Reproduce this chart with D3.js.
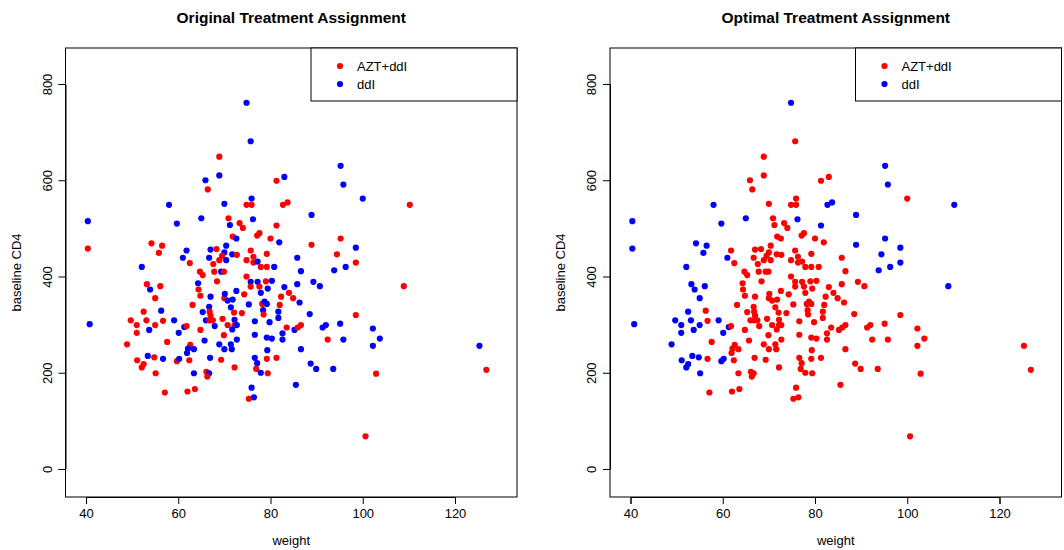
<!DOCTYPE html>
<html>
<head>
<meta charset="utf-8">
<script src="https://cdn.jsdelivr.net/npm/d3@7"></script>
<style>
  body { margin: 0; background: #fff; }
  text { font-family: "Liberation Sans", Arial, sans-serif; fill: #000; }
</style>
</head>
<body>
<script>
// Data (weight in kg, baseline CD4 count)
var weight = [
  40.4, 40.4, 40.8, 58.0, 59.7, 65.0, 54.2, 56.5, 55.8, 61.0,
  52.1, 53.2, 53.9, 56.1, 55.0, 52.5, 49.7, 51.0, 53.1, 51.0,
  53.7, 55.0, 59.1, 61.3, 60.1, 48.9, 51.1, 52.5, 52.1, 53.4,
  54.8, 55.1, 59.7, 60.2, 61.8, 62.5, 61.8, 63.1, 56.3, 56.7,
  57.6, 62.6, 62.1, 61.9, 63.4, 56.7, 62.4, 63.4, 57.1, 62.0,
  63.6, 64.3, 64.4, 64.8, 64.7, 65.3, 64.8, 68.9, 65.9, 66.4,
  68.9, 67.0, 68.3, 66.7, 67.6, 68.9, 67.8, 68.4, 67.0, 66.7,
  65.3, 66.8, 67.0, 66.0, 66.8, 67.5, 67.9, 68.9, 65.7, 66.9,
  66.1, 66.7, 66.3, 74.8, 82.7, 83.7, 76.2, 81.3, 88.9, 88.9,
  95.2, 95.8, 95.2, 94.4, 96.3, 93.8, 98.5, 98.5, 75.7, 81.3,
  83.0, 75.9, 74.8, 75.9, 70.0, 70.9, 71.2, 73.3, 74.0, 71.8,
  72.6, 77.1, 77.6, 80.0, 81.9, 70.4, 70.0, 69.5, 71.7, 72.7,
  70.4, 75.7, 74.8, 76.3, 76.3, 77.2, 79.2, 77.9, 79.2, 80.8,
  85.8, 86.6, 69.3, 69.9, 74.8, 75.7, 75.7, 77.2, 77.6, 79.0,
  80.3, 79.4, 83.0, 85.8, 84.0, 84.9, 86.3, 89.3, 90.7, 72.6,
  74.3, 77.9, 82.3, 70.0, 70.7, 71.8, 71.4, 75.3, 78.2, 78.7,
  79.2, 82.0, 78.4, 78.5, 81.7, 81.7, 72.1, 73.8, 69.6, 72.2,
  72.2, 70.7, 71.7, 72.7, 76.6, 79.8, 83.5, 85.2, 85.9, 86.6,
  88.5, 91.3, 92.0, 69.9, 76.6, 79.2, 80.3, 82.6, 82.6, 92.4,
  95.1, 95.8, 70.0, 71.4, 71.6, 72.7, 76.6, 79.2, 81.3, 86.6,
  77.1, 76.9, 77.9, 79.4, 69.3, 72.2, 88.7, 89.9, 93.6, 85.5,
  75.9, 75.3, 76.4, 79.3, 70.1, 100.0, 110.2, 108.9, 98.5, 102.2,
  103.7, 102.2, 102.9, 125.3, 126.8, 100.6
];
var cd4 = [
  515, 458, 301, 549, 510, 521, 469, 464, 449, 439,
  420, 384, 373, 380, 355, 327, 309, 299, 309, 283,
  289, 299, 309, 295, 283, 259, 226, 218, 211, 235,
  232, 199, 224, 229, 454, 428, 297, 341, 329, 308,
  264, 258, 250, 241, 249, 229, 226, 199, 159, 161,
  166, 386, 373, 360, 410, 403, 289, 649, 600, 581,
  610, 456, 457, 439, 426, 434, 410, 390, 358, 337,
  326, 327, 319, 309, 309, 309, 297, 259, 267, 231,
  202, 199, 192, 761, 549, 554, 519, 506, 528, 466,
  630, 591, 479, 446, 420, 413, 460, 429, 681, 599,
  607, 562, 549, 549, 551, 521, 507, 511, 501, 483,
  479, 485, 490, 479, 471, 464, 450, 443, 446, 445,
  434, 454, 434, 441, 429, 431, 447, 420, 420, 420,
  439, 411, 410, 410, 400, 389, 379, 389, 379, 390,
  391, 375, 378, 384, 366, 355, 346, 389, 380, 370,
  363, 366, 358, 355, 350, 352, 336, 342, 343, 348,
  343, 341, 330, 321, 327, 314, 325, 324, 312, 310,
  299, 299, 290, 299, 307, 305, 294, 289, 294, 299,
  322, 294, 299, 278, 279, 273, 271, 269, 282, 269,
  302, 269, 249, 259, 249, 269, 231, 229, 231, 249,
  220, 208, 200, 199, 227, 211, 219, 208, 208, 175,
  169, 146, 149, 247, 364, 562, 549, 380, 320, 292,
  271, 256, 198, 256, 206, 68
];
// treatment index into treatments: 0 = AZT+ddI, 1 = ddI
var originalArm = [
  1,0,1,1,1,1,0,0,0,1, 1,0,1,0,0,0,0,0,0,0, 1,0,1,1,1,0,0,0,0,1,
  0,0,0,1,1,0,0,0,1,0, 0,0,1,1,1,1,0,1,0,0, 0,1,0,0,0,0,0,0,1,0,
  1,1,0,1,0,0,0,0,1,1, 1,0,0,1,0,0,1,1,1,1, 0,1,0,1,0,0,1,0,1,0,
  1,1,0,0,1,1,1,0,1,0, 1,1,0,0,1,0,1,0,0,0, 1,0,0,0,1,1,1,0,1,0,
  1,0,0,0,0,1,0,0,0,1, 1,1,1,0,0,1,0,1,0,0, 1,1,1,1,0,0,1,1,1,1,
  0,1,0,0,1,1,1,1,0,1, 1,0,1,0,1,1,0,0,0,1, 0,0,1,1,1,1,0,1,0,0,
  1,1,1,0,1,1,1,1,1,0, 1,1,1,1,1,1,1,0,0,1, 1,0,1,0,0,0,1,1,1,1,
  1,0,1,1,1,1,0,0,0,1, 1,1,0,1,0,0
];
var optimalArm = [
  1,1,1,1,1,1,1,1,1,1, 1,1,1,1,1,1,1,1,1,1, 1,1,1,1,1,1,1,1,1,1,
  1,1,1,1,0,0,0,0,0,0, 0,0,0,0,0,0,0,0,0,0, 0,0,0,0,0,0,0,0,0,0,
  0,0,0,0,0,0,0,0,0,0, 0,0,0,0,0,0,0,0,0,0, 0,0,0,1,1,1,1,1,1,1,
  1,1,1,1,1,1,1,1,0,0, 0,0,0,0,0,0,0,0,0,0, 0,0,0,0,0,0,0,0,0,0,
  0,0,0,0,0,0,0,0,0,0, 0,0,0,0,0,0,0,0,0,0, 0,0,0,0,0,0,0,0,0,0,
  0,0,0,0,0,0,0,0,0,0, 0,0,0,0,0,0,0,0,0,0, 0,0,0,0,0,0,0,0,0,0,
  0,0,0,0,0,0,0,0,0,0, 0,0,0,0,0,0,0,0,0,0, 0,0,0,0,0,0,0,0,0,0,
  0,0,0,0,0,0,1,1,0,0, 0,0,0,0,0,0
];
var treatments = ["AZT+ddI", "ddI"];
var treatmentColors = ["#ff0000", "#0000ff"];
var xTicks = [40, 60, 80, 100, 120];
var yTicks = [0, 200, 400, 600, 800];
var panelTitles = ["Original Treatment Assignment", "Optimal Treatment Assignment"];
var panelArms = [originalArm, optimalArm];

var svgWidth = 1064, svgHeight = 550;
var boxTop = 48, boxBottom = 497, boxWidth = 451.5;
var panelLeft = [65.5, 610];

var svg = d3.select("body").append("svg")
  .attr("width", svgWidth)
  .attr("height", svgHeight);

// same scales for both panels (local panel coordinates)
var xScale = d3.scaleLinear().domain([40, 120]).range([20.5, 389.5]);
var yScale = d3.scaleLinear().domain([0, 800]).range([469, 84]);

var points = weight.map(function(w, i) { return { w: w, c: cd4[i], i: i }; });

panelTitles.forEach(function(title, p) {
  var arm = panelArms[p];
  var g = svg.append("g").attr("transform", "translate(" + panelLeft[p] + ",0)");

  // points
  g.selectAll("circle.pt")
    .data(points)
    .enter().append("circle")
    .attr("class", "pt")
    .attr("cx", d => xScale(d.w))
    .attr("cy", d => yScale(d.c))
    .attr("r", 3.1)
    .attr("fill", d => treatmentColors[arm[d.i]]);

  // plot box
  g.append("rect")
    .attr("x", 0).attr("y", boxTop)
    .attr("width", boxWidth).attr("height", boxBottom - boxTop)
    .attr("fill", "none").attr("stroke", "#000").attr("stroke-width", 1);

  // x axis
  var bottomAxis = d3.axisBottom(xScale).tickValues(xTicks).tickSize(7).tickPadding(5);
  var gx = g.append("g").attr("transform", "translate(0," + boxBottom + ")").call(bottomAxis);
  gx.selectAll("text").attr("font-size", "13px").attr("font-family", "Liberation Sans, Arial, sans-serif");

  // y axis with labels rotated like R's default
  var leftAxis = d3.axisLeft(yScale).tickValues(yTicks).tickSize(7).tickFormat(d3.format("d"));
  var gy = g.append("g").call(leftAxis);
  gy.selectAll("text")
    .attr("font-size", "13px")
    .attr("font-family", "Liberation Sans, Arial, sans-serif")
    .attr("text-anchor", "middle")
    .attr("x", 0).attr("y", 0).attr("dy", 0)
    .attr("transform", "translate(-14,0) rotate(-90)");
  gx.select(".domain").attr("stroke", "#000");
  gy.select(".domain").attr("stroke", "#000");

  // axis titles
  g.append("text")
    .attr("x", boxWidth / 2).attr("y", 545)
    .attr("text-anchor", "middle").attr("font-size", "13px")
    .text("weight");
  g.append("text")
    .attr("transform", "translate(" + (-45) + "," + ((boxTop + boxBottom) / 2) + ") rotate(-90)")
    .attr("text-anchor", "middle").attr("font-size", "13px")
    .text("baseline CD4");

  // title
  g.append("text")
    .attr("x", boxWidth / 2).attr("y", 23)
    .attr("text-anchor", "middle").attr("font-size", "15.5px").attr("font-weight", "bold")
    .text(title);

  // legend
  var lg = g.append("g").attr("transform", "translate(" + (boxWidth - 206) + "," + boxTop + ")");
  lg.append("rect")
    .attr("width", 206).attr("height", 53)
    .attr("fill", "#fff").attr("stroke", "#000");
  treatments.forEach(function(t, k) {
    lg.append("circle")
      .attr("cx", 29).attr("cy", 18 + k * 18).attr("r", 3.1)
      .attr("fill", treatmentColors[k]);
    lg.append("text")
      .attr("x", 46).attr("y", 22.5 + k * 18)
      .attr("font-size", "13px")
      .text(t);
  });
});
</script>
</body>
</html>
